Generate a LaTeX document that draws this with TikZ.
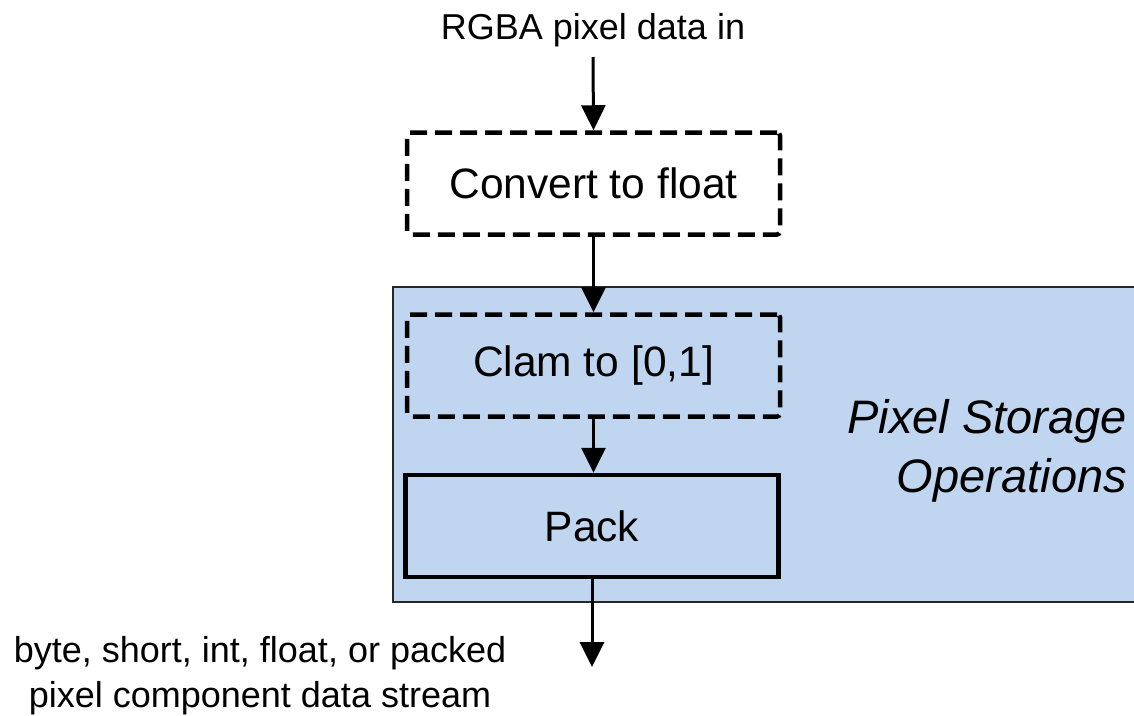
\documentclass[tikz,border=0pt]{standalone}
\usepackage{fontspec}
\setmainfont{Liberation Sans}
\usetikzlibrary{arrows.meta}
\definecolor{psblue}{RGB}{192,214,240}
\begin{document}
\begin{tikzpicture}[x=1pt,y=-1pt,
  flow/.style={line width=3pt,-{Triangle[width=24pt,length=25pt]}},
  stagebox/.style={draw,line width=4.5pt,minimum width=373pt,minimum height=102pt,inner sep=0pt,font=\fontsize{42.5}{50}\selectfont},
  dashbox/.style={stagebox,dash pattern=on 17pt off 8pt,rounded corners=3pt},
  label/.style={inner sep=0pt,font=\fontsize{36}{45}\selectfont,align=center}]
\useasboundingbox (0,0) rectangle (1134,715);
\clip (0,0) rectangle (1134,715);
\fill[white] (0,0) rectangle (1134,715);
% region
\draw[fill=psblue,draw=black!85,line width=1.5pt] (393,287) rectangle (1145,602);
\node[inner sep=0pt,font=\fontsize{47}{59}\selectfont\itshape,align=right,anchor=base east] (ops) at (1127,492) {Pixel Storage\\Operations};
% nodes
\node[label,anchor=base] (in) at (593,39) {RGBA pixel data in};
\coordinate (instart) at (593,57);
\node[dashbox] (conv) at (593.5,183.5) {Convert to float};
\node[dashbox] (clam) at (593.5,365.5) {Clam to [0,1]};
\node[stagebox] (pack) at (592,526) {Pack};
\coordinate (outend) at (592,667);
\node[label,anchor=base] (out) at (260,707) {byte, short, int, float, or packed\\pixel component data stream};
% connectors
\draw[flow] (instart) -- (conv.north);
\draw[flow] (conv.south) -- (clam.north);
\draw[flow] (clam.south) -- (clam.south |- pack.north);
\draw[flow] (pack.south) -- (outend);
\end{tikzpicture}
\end{document}
